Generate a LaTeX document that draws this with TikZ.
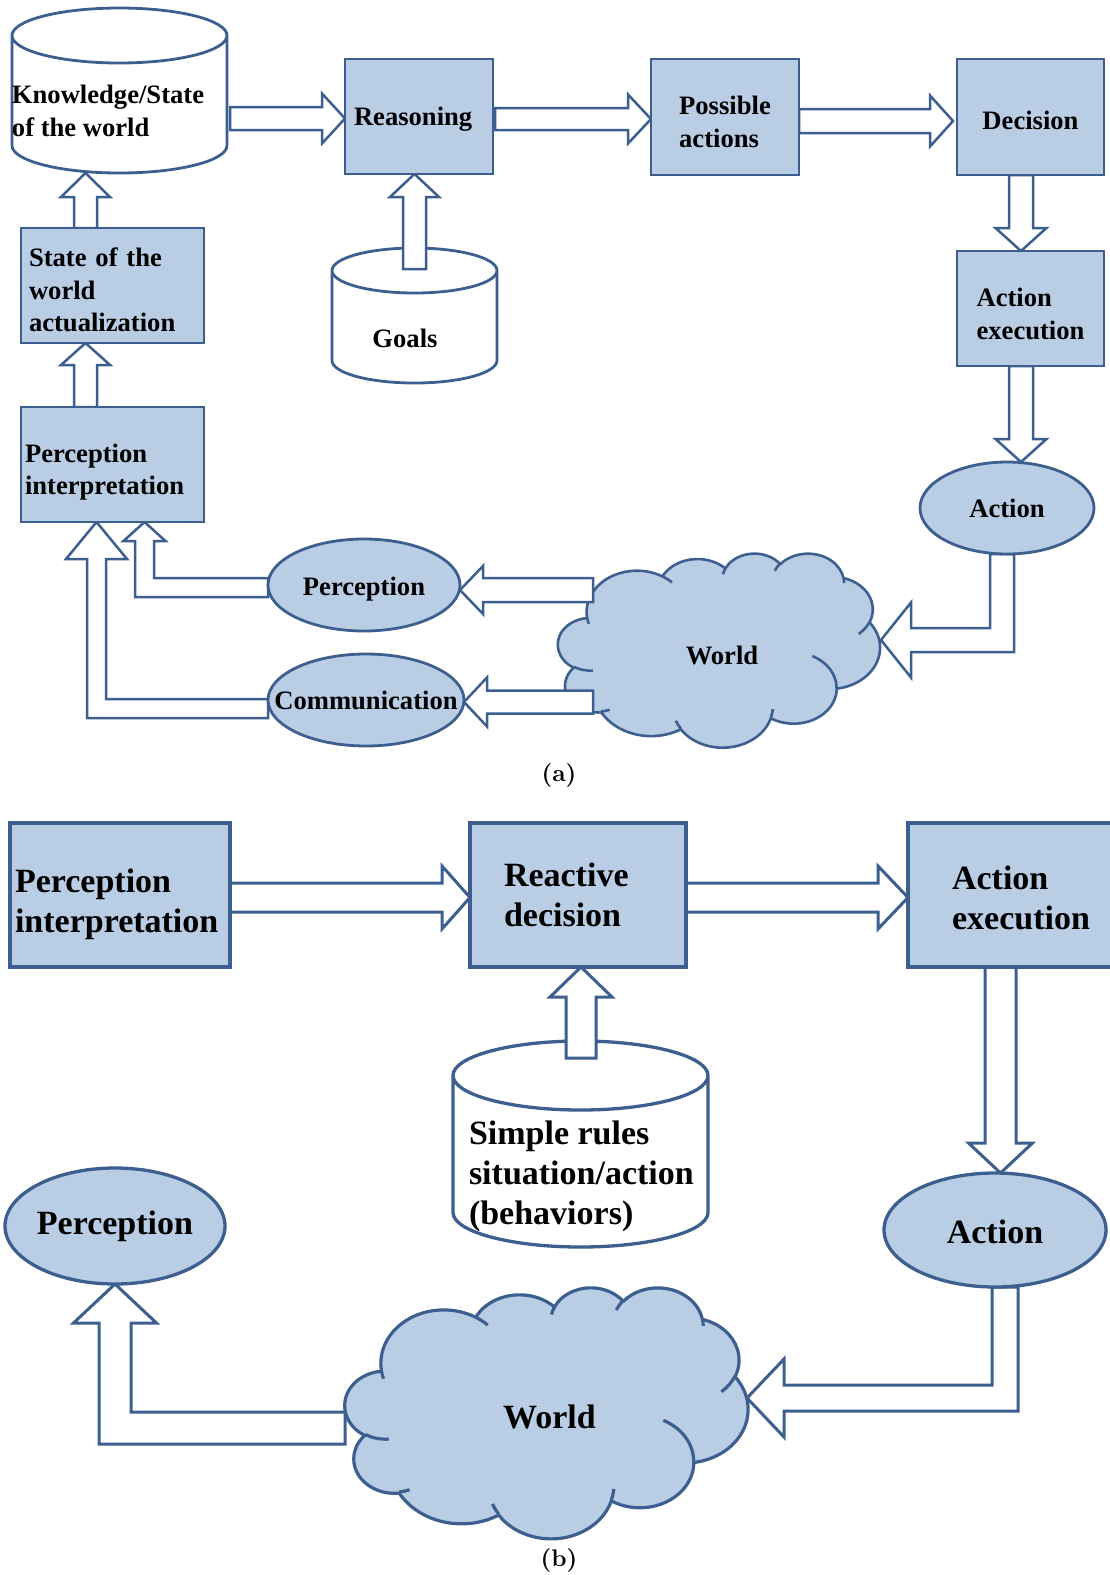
\documentclass[tikz,border=0pt]{standalone}
\usepackage{fontspec}
\newfontfamily\tnr{Liberation Serif}
\newfontfamily\capfont{lmroman10-bold.otf}
\usetikzlibrary{shapes.geometric,calc}
\definecolor{fillc}{RGB}{185,205,229}
\definecolor{linec}{RGB}{60,95,143}
\hyphenpenalty=10000
\exhyphenpenalty=10000
\pgfdeclarelayer{bg}
\pgfdeclarelayer{arr}
\pgfsetlayers{bg,arr,main}

% elliptical arc, DrawingML convention: radii, start angle, sweep (visual angles)
\newcommand\pptarc[4]{%
  \pgfmathsetmacro\arcA{atan2((#1)*sin(#3),(#2)*cos(#3))}%
  \pgfmathsetmacro\arcB{atan2((#1)*sin((#3)+(#4)),(#2)*cos((#3)+(#4)))}%
  \pgfmathsetmacro\arcB{\arcB+360*((#4)>0)*(\arcB<\arcA)-360*((#4)<0)*(\arcB>\arcA)}%
  \pgfpatharcaxes{\arcA}{\arcB}{\pgfpointxy{#1}{0}}{\pgfpointxy{0}{#2}}}

% cloud on a 4320 x 4320 grid fitted to the box of node #1
\newcommand\cloudshape[4]{% node, width, height, line width
  \pgfmathsetmacro\cloudsx{#2/4320}%
  \pgfmathsetmacro\cloudsy{#3/4320}%
  \begin{scope}[shift={(#1.north west)}, x=\cloudsx pt, y=-\cloudsy pt]
    \pgfsetlinewidth{#4}%
    \pgfsetstrokecolor{linec}\pgfsetfillcolor{fillc}%
    \pgfsetroundjoin
    \pgfpathmoveto{\pgfpointxy{390}{1437}}%
    \pptarc{675.3}{919.0}{-190.4875}{123.7805}%
    \pptarc{533.3}{726.7}{-144.1024}{89.9452}%
    \pptarc{436.5}{594.5}{-145.8079}{99.7230}%
    \pptarc{485.7}{659.5}{-130.9861}{117.2417}%
    \pptarc{533.3}{727.3}{-78.7089}{109.0269}%
    \pptarc{677.5}{922.0}{-46.2673}{130.2690}%
    \pptarc{578.5}{786.7}{0.6250}{114.0333}%
    \pptarc{675.2}{921.5}{22.4516}{115.1726}%
    \pptarc{772.0}{1054.3}{66.2426}{75.7110}%
    \pptarc{436.0}{591.8}{-274.9421}{146.7356}%
    \pptarc{434.5}{594.5}{-246.8285}{152.5189}%
    \pgfpathclose
    \pgfusepath{fill,stroke}%
    % inner folds
    \pgfpathmoveto{\pgfpointxy{469.3}{2617.7}}\pptarc{434.5}{594.5}{86.7420}{26.4295}%
    \pgfpathmoveto{\pgfpointxy{692.8}{3489.9}}\pptarc{436.0}{591.8}{73.6105}{11.4475}%
    \pgfpathmoveto{\pgfpointxy{1647.8}{3909.0}}\pptarc{675.2}{921.5}{137.6242}{14.0811}%
    \pgfpathmoveto{\pgfpointxy{2882.7}{3475.1}}\pptarc{675.2}{921.5}{6.4533}{15.9984}%
    \pgfpathmoveto{\pgfpointxy{3412.9}{2295.4}}\pptarc{578.5}{786.7}{-70.2924}{70.9174}%
    \pgfpathmoveto{\pgfpointxy{4179.8}{1535.4}}\pptarc{533.3}{727.3}{30.3180}{27.7515}%
    \pgfpathmoveto{\pgfpointxy{3832.4}{542.6}}\pptarc{485.7}{659.5}{-13.7443}{14.8589}%
    \pgfpathmoveto{\pgfpointxy{2907.8}{395.2}}\pptarc{485.7}{659.5}{-149.1815}{18.1954}%
    \pgfpathmoveto{\pgfpointxy{2214.1}{472.0}}\pptarc{436.5}{594.5}{-163.4943}{17.6864}%
    \pgfpathmoveto{\pgfpointxy{1400.0}{519.2}}\pptarc{675.3}{919.0}{-66.7070}{12.3194}%
    \pgfpathmoveto{\pgfpointxy{412.7}{1578.9}}\pptarc{675.3}{919.0}{157.6544}{11.8582}%
    \pgfusepath{stroke}%
  \end{scope}}

% vertical cylinder around holder node #1: half width #2, cap half height #3
\newcommand\cylinder[4]{%
  \path[cyl,#4] let \p1=(#1.north west), \p2=(#1.south east) in
    (\x1,\y1-#3pt) -- (\x1,\y2+#3pt)
    arc[start angle=180, end angle=360, x radius=#2pt, y radius=#3pt]
    -- (\x2,\y1-#3pt)
    arc[start angle=0, end angle=180, x radius=#2pt, y radius=#3pt] -- cycle
    (\x1,\y1-#3pt) arc[start angle=180, end angle=360, x radius=#2pt, y radius=#3pt];}

% text moved down by #1 without changing its box
\newcommand\dropby[2]{\raisebox{-#1}[\height][\depth]{#2}}

% block arrows: start, tip, shaft half width, head half width, head length
\newcommand\arrR[6][blka]{\draw[#1] let \p1=#2, \p2=#3 in
  (\x1,\y2+#4pt) -- (\x2-#6pt,\y2+#4pt) -- (\x2-#6pt,\y2+#5pt) -- (\p2)
  -- (\x2-#6pt,\y2-#5pt) -- (\x2-#6pt,\y2-#4pt) -- (\x1,\y2-#4pt) -- cycle;}
\newcommand\arrL[6][blka]{\draw[#1] let \p1=#2, \p2=#3 in
  (\x1,\y2+#4pt) -- (\x2+#6pt,\y2+#4pt) -- (\x2+#6pt,\y2+#5pt) -- (\p2)
  -- (\x2+#6pt,\y2-#5pt) -- (\x2+#6pt,\y2-#4pt) -- (\x1,\y2-#4pt) -- cycle;}
\newcommand\arrU[6][blka]{\draw[#1] let \p1=#2, \p2=#3 in
  (\x2+#4pt,\y1) -- (\x2+#4pt,\y2-#6pt) -- (\x2+#5pt,\y2-#6pt) -- (\p2)
  -- (\x2-#5pt,\y2-#6pt) -- (\x2-#4pt,\y2-#6pt) -- (\x2-#4pt,\y1) -- cycle;}
\newcommand\arrD[6][blka]{\draw[#1] let \p1=#2, \p2=#3 in
  (\x2+#4pt,\y1) -- (\x2+#4pt,\y2+#6pt) -- (\x2+#5pt,\y2+#6pt) -- (\p2)
  -- (\x2-#5pt,\y2+#6pt) -- (\x2-#4pt,\y2+#6pt) -- (\x2-#4pt,\y1) -- cycle;}
% down, then left
\newcommand\arrDL[6][blka]{\draw[#1] let \p1=#2, \p2=#3 in
  (\x1-#4pt,\y1) -- (\x1-#4pt,\y2+#4pt) -- (\x2+#6pt,\y2+#4pt) -- (\x2+#6pt,\y2+#5pt)
  -- (\p2) -- (\x2+#6pt,\y2-#5pt) -- (\x2+#6pt,\y2-#4pt) -- (\x1+#4pt,\y2-#4pt)
  -- (\x1+#4pt,\y1) -- cycle;}
% left, then up
\newcommand\arrLU[6][blka]{\draw[#1] let \p1=#2, \p2=#3 in
  (\x1,\y1+#4pt) -- (\x2+#4pt,\y1+#4pt) -- (\x2+#4pt,\y2-#6pt) -- (\x2+#5pt,\y2-#6pt)
  -- (\p2) -- (\x2-#5pt,\y2-#6pt) -- (\x2-#4pt,\y2-#6pt) -- (\x2-#4pt,\y1-#4pt)
  -- (\x1,\y1-#4pt) -- cycle;}

\begin{document}
\begin{tikzpicture}[x=1pt,y=-1pt,
  every node/.style={outer sep=0pt},
  fa/.style={font=\tnr\bfseries\fontsize{26.6}{32.5}\selectfont},
  fb/.style={font=\tnr\bfseries\fontsize{34}{40}\selectfont},
  box/.style={rectangle, draw=linec, fill=fillc, inner ysep=0pt, align=left},
  oval/.style={ellipse, draw=linec, fill=fillc, inner sep=0pt},
  holder/.style={rectangle, inner sep=0pt},
  lwa/.style={line width=2.8pt},
  lwb/.style={line width=3.3pt},
  blka/.style={draw=linec, fill=white, line width=2.5pt, line join=miter},
  blkb/.style={draw=linec, fill=white, line width=3pt, line join=miter},
  cyl/.style={draw=linec, fill=white},
  caption/.style={font=\capfont\fontsize{24}{28}\selectfont, inner sep=0pt}]
\useasboundingbox (0,0) rectangle (1110,1575);

% ---------- (a) ----------
\node[holder, minimum width=215pt, minimum height=165pt] (kb) at (119.5,90.5) {};
\node[box, fa, lwa, minimum width=148pt, minimum height=115pt, text width=130pt, inner xsep=9pt] (reason) at (419,116.5) {\rule{0pt}{24pt}Reasoning};
\node[box, fa, lwa, minimum width=148pt, minimum height=116pt] (poss) at (725,117) {\rule{0pt}{28.6pt}Possible\\actions};
\node[box, fa, lwa, minimum width=147pt, minimum height=116pt] (dec) at (1030.5,117) {\rule{0pt}{26pt}Decision};
\node[box, fa, lwa, minimum width=147pt, minimum height=115pt] (exec) at (1030.5,308.5) {\rule{0pt}{29pt}Action\\execution};
\node[holder, minimum width=165pt, minimum height=135pt] (goals) at (414.5,315.5) {};
\node[box, fa, lwa, minimum width=183pt, minimum height=115pt, text width=167pt, inner xsep=8pt] (state) at (112.5,285.5) {\rule{0pt}{27.5pt}State of the\\world\\actualization};
\node[box, fa, lwa, minimum width=183pt, minimum height=115pt, text width=175pt, inner xsep=4pt] (pint) at (112.5,464.5) {\rule{0pt}{34pt}Perception\\interpretation};
\node[oval, fa, lwa, minimum width=174pt, minimum height=92pt] (act) at (1007,508) {\makebox[0pt]{Action}};
\node[oval, fa, lwa, minimum width=192pt, minimum height=92pt] (perc) at (364,585) {\dropby{4pt}{\makebox[0pt]{Perception}}};
\node[oval, fa, lwa, minimum width=196pt, minimum height=92pt] (comm) at (366,700) {\makebox[0pt]{Communication}};
\node[holder, fa, minimum width=322pt, minimum height=194pt] (world) at (719,650) {\dropby{5pt}{\makebox[0pt]{\hspace{6pt}World}}};

\node[fa, anchor=west, align=left, inner sep=0pt] (kbtext) at (12,111) {Knowledge/State\\of the world};
\node[fa, inner sep=0pt] (goalstext) at (405,338) {Goals};
\node[caption] (capa) at (559,775) {(a)};

% ---------- (b) ----------
\node[box, fb, lwb, minimum width=220pt, minimum height=144pt, text width=210pt, inner xsep=5pt] (pint2) at (120,895) {\rule{0pt}{42.5pt}Perception\\interpretation};
\node[box, fb, lwb, minimum width=216pt, minimum height=144pt, text width=148pt, inner xsep=34pt] (react) at (578,895) {Reactive\\decision};
\node[box, fb, lwb, minimum width=226pt, minimum height=144pt] (exec2) at (1021,895) {\rule{0pt}{29pt}Action\\execution};
\node[holder, minimum width=255pt, minimum height=206pt] (rules) at (580.5,1144) {};
\node[oval, fb, lwb, minimum width=220pt, minimum height=116pt] (perc2) at (115,1226) {\makebox[0pt]{Perception}};
\node[oval, fb, lwb, minimum width=222pt, minimum height=114pt] (act2) at (995,1230) {\dropby{2pt}{\makebox[0pt]{Action}}};
\node[holder, fb, minimum width=403pt, minimum height=251pt] (world2) at (546.5,1412.5) {\dropby{4pt}{\makebox[0pt]{\hspace{6pt}World}}};

\node[fb, anchor=west, align=left, inner sep=0pt] (rulestext) at (469,1176) {Simple rules\\situation/action\\(behaviors)};
\node[caption] (capb) at (559,1560) {(b)};

% ---------- stores and clouds ----------
\begin{pgfonlayer}{bg}
  \cylinder{kb}{107.5}{27.5}{lwa}
  \cylinder{goals}{82.5}{22.5}{lwa}
  \cylinder{rules}{127.5}{34.5}{lwb}
  \cloudshape{world}{322}{194}{2.6pt}
  \cloudshape{world2}{403}{251}{3.2pt}
\end{pgfonlayer}

% ---------- block arrows ----------
\begin{pgfonlayer}{arr}
  \arrR{($(kb.east)+(3,0)$)}{($(reason.west)+(0,2)$)}{11.5}{25}{23}
  \arrR{($(reason.east)+(2,0)$)}{($(poss.west)+(0,2)$)}{11}{24.5}{23}
  \arrR{(poss.east)}{($(dec.west)+(-4,4)$)}{12}{25.5}{23}
  \arrD{(dec.south)}{($(exec.north)+(-9.5,0)$)}{12}{25.5}{23}
  \arrD{(exec.south)}{($(act.north)+(14,0)$)}{12}{25.5}{23}
  \arrDL{($(act.south)+(-5,0)$)}{($(world.east)+(1,-10)$)}{12}{37.5}{30}
  \arrL{($(world.west)+(35,-60)$)}{($(perc.east)+(0,5)$)}{12}{24}{23}
  \arrL{($(world.west)+(35,51.5)$)}{($(comm.east)+(0,2)$)}{11.5}{24.5}{23}
  \arrLU{($(perc.west)+(0,2.5)$)}{($(pint.south)+(32,0)$)}{9.5}{21}{19}
  \arrLU{($(comm.west)+(0,8.5)$)}{($(pint.south)+(-16,0)$)}{9.5}{30.5}{37}
  \arrU{(pint.north)}{($(state.south)+(-27,0)$)}{11.5}{24.5}{22}
  \arrU{(state.north)}{($(kb.south)+(-34,0)$)}{11.5}{24.5}{24}
  \arrU{($(goals.north)+(0,21)$)}{($(reason.south)+(-4.5,0)$)}{11.5}{24.5}{23}

  \arrR[blkb]{(pint2.east)}{($(react.west)+(0,2.5)$)}{14.5}{31.5}{28}
  \arrR[blkb]{(react.east)}{($(exec2.west)+(0,2.5)$)}{14.5}{31.5}{30}
  \arrU[blkb]{($(rules.north)+(0,17)$)}{($(react.south)+(3,0)$)}{15}{31}{30}
  \arrD[blkb]{(exec2.south)}{($(act2.north)+(5.5,0)$)}{15.5}{32}{30}
  \arrDL[blkb]{($(act2.south)+(10,0)$)}{($(world2.east)+(-1,-14.5)$)}{13}{39}{37}
  \arrLU[blkb]{($(world2.west)+(0,15.5)$)}{(perc2.south)}{16}{41.5}{39}
\end{pgfonlayer}
\end{tikzpicture}
\end{document}
